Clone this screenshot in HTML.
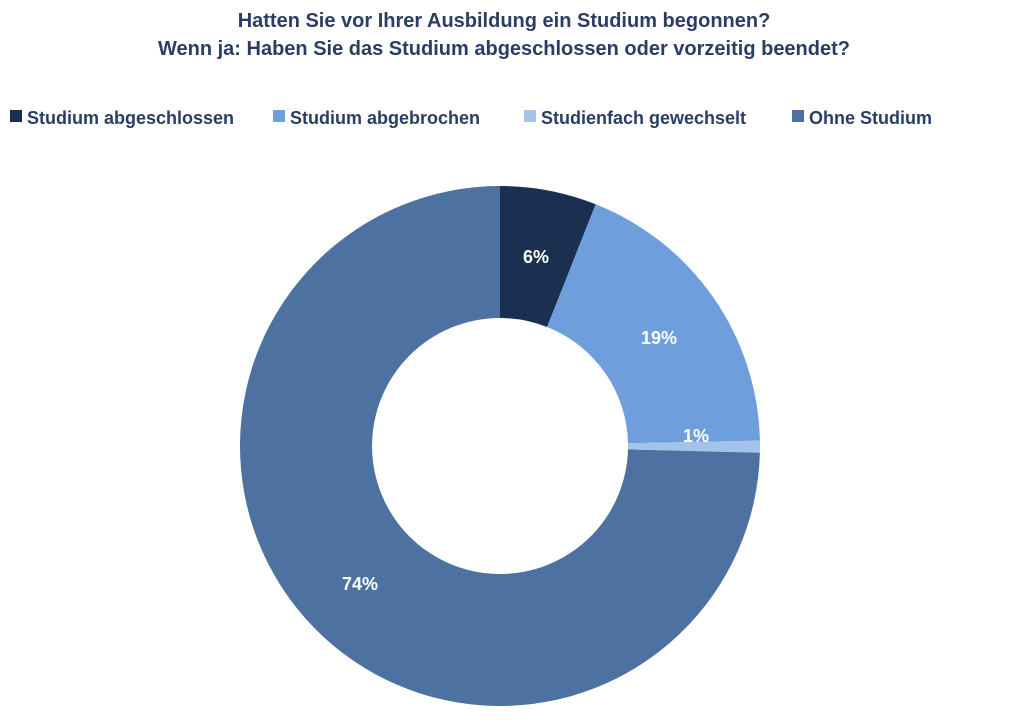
<!DOCTYPE html>
<html><head><meta charset="utf-8"><style>
body{margin:0;background:#fff;width:1009px;height:721px;overflow:hidden;font-family:"Liberation Sans",sans-serif}
</style></head><body>
<svg width="1009" height="721" viewBox="0 0 1009 721" xmlns="http://www.w3.org/2000/svg" font-family="Liberation Sans, sans-serif" font-weight="bold">
<text x="504" y="27" text-anchor="middle" font-size="20" fill="#2b3d63">Hatten Sie vor Ihrer Ausbildung ein Studium begonnen?</text>
<text x="504" y="55" text-anchor="middle" font-size="20" fill="#2b3d63">Wenn ja: Haben Sie das Studium abgeschlossen oder vorzeitig beendet?</text>
<g font-size="18" fill="#2b3d63">
<rect x="10" y="110" width="12" height="12" fill="#1b3050"/><text x="27" y="124">Studium abgeschlossen</text>
<rect x="273" y="110" width="12" height="12" fill="#6f9edc"/><text x="290" y="124">Studium abgebrochen</text>
<rect x="524" y="110" width="12" height="12" fill="#a3c3ea"/><text x="541" y="124">Studienfach gewechselt</text>
<rect x="792" y="110" width="12" height="12" fill="#4d71a0"/><text x="809" y="124">Ohne Studium</text>
</g>
<path d="M500,186 A260,260 0 0 1 595.7,204.3 L547.1,327 A128,128 0 0 0 500,318 Z" fill="#1b3050"/>
<path d="M595.7,204.3 A260,260 0 0 1 759.9,440.6 L628,443.3 A128,128 0 0 0 547.1,327 Z" fill="#6f9edc"/>
<path d="M759.9,440.6 A260,260 0 0 1 759.9,452.8 L628,449.4 A128,128 0 0 0 628,443.3 Z" fill="#a3c3ea"/>
<path d="M759.9,452.8 A260,260 0 1 1 500,186 L500,318 A128,128 0 1 0 628,449.4 Z" fill="#4d71a0"/>
<g font-size="18" fill="#fff" text-anchor="middle">
<text x="536" y="263">6%</text>
<text x="659" y="344">19%</text>
<text x="696" y="442">1%</text>
<text x="360" y="590">74%</text>
</g>
</svg>
</body></html>
